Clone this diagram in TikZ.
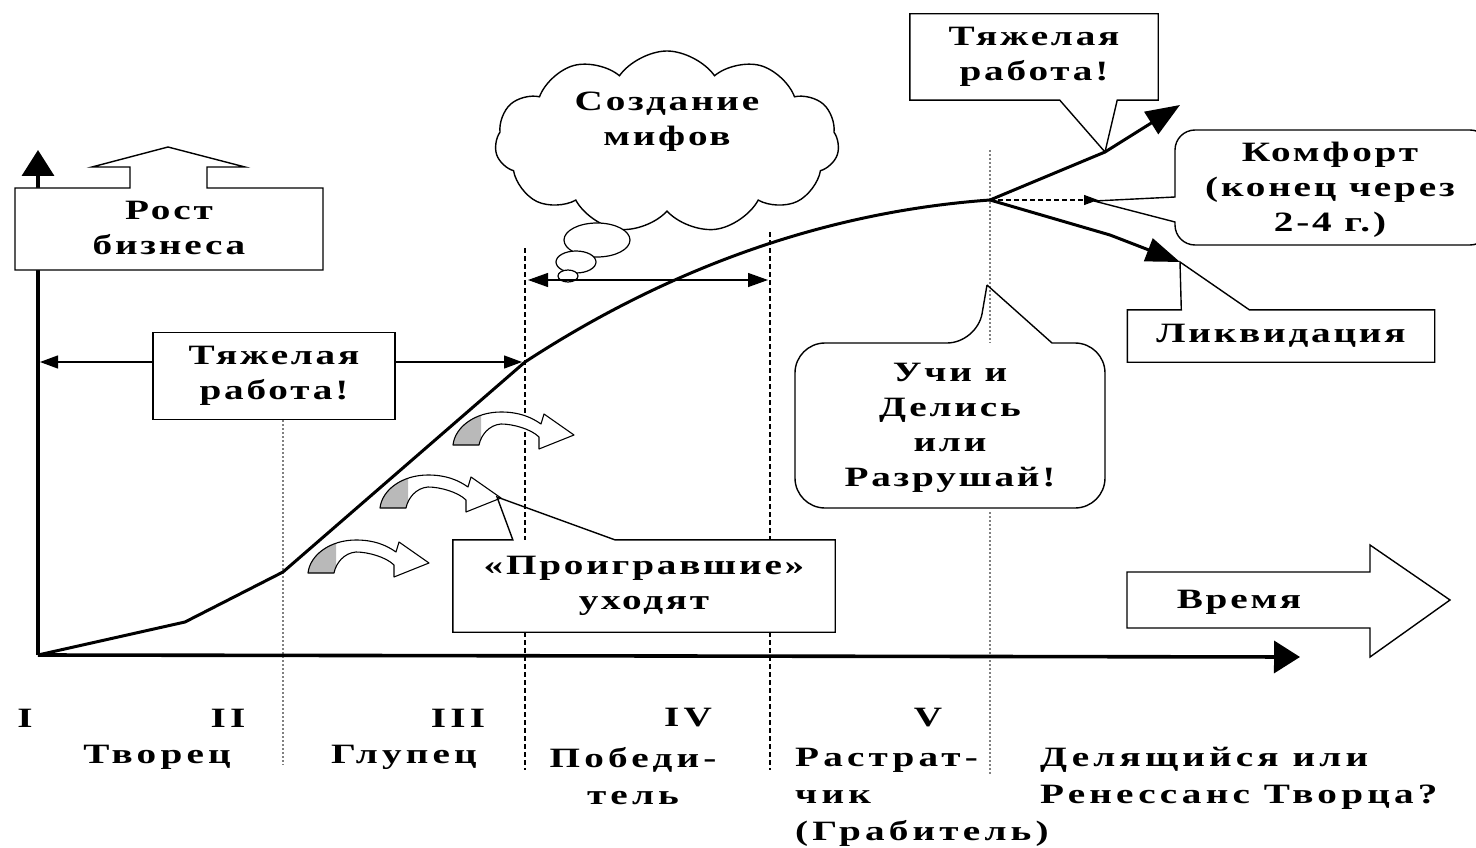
\documentclass[tikz,border=0pt]{standalone}
\usepackage{fontspec}
\setmainfont{Liberation Serif}
\newfontfamily\labfont{Liberation Serif}[FakeStretch=1.4,LetterSpace=10]
\newfontfamily\botfont{Liberation Serif}[FakeStretch=1.4,LetterSpace=15]
\usetikzlibrary{arrows.meta,shapes.symbols}
\tikzset{
  lbl/.style={font=\labfont\bfseries\fontsize{28}{35}\selectfont, align=center, inner sep=0pt},
  blbl/.style={font=\botfont\bfseries\fontsize{28}{37}\selectfont, inner sep=0pt},
  ol/.style={draw=black, line width=1.4pt, fill=white},
  oline/.style={draw=black, line width=1.4pt},
  axisln/.style={line width=3.6pt, -{Triangle[length=26pt,width=32pt]}},
  curveln/.style={line width=3pt, line join=round},
  harr/.style={line width=1.3pt, -{Triangle[length=18pt,width=13pt]}},
  guideg/.style={draw=gray, line width=1.1pt, dash pattern=on 2pt off 2pt},
  guided/.style={draw=black, line width=1.2pt, dash pattern=on 5pt off 3pt},
  crvp/.style={insert path={(0,0) .. controls (2,-18) and (22,-33) .. (48,-33)
     .. controls (66,-33) and (78,-28) .. (88,-21) -- (91,-31) -- (121,-10)
     -- (86,4) -- (86,-8) .. controls (78,-16) and (60,-21) .. (48,-21)
     .. controls (36,-20) and (28,-10) .. (26,0) -- cycle}},
  crv/.pic={
    \fill[white, crvp];
    \begin{scope}
      \clip (-5,5) rectangle (28,-40);
      \fill[gray!55, crvp];
    \end{scope}
    \draw[line width=1.1pt, line join=round, crvp];
  }
}
\begin{document}
\begin{tikzpicture}[x=1pt,y=-1pt]
\useasboundingbox (0,0) rectangle (1476,848);
\fill[white] (0,0) rectangle (1476,848);

% key points
\coordinate (O) at (38,655);
\coordinate (yT) at (38,150);
\coordinate (xT) at (1300,657);
\coordinate (c1) at (185,622);
\coordinate (c2) at (283,572);
\coordinate (c3) at (525,362);
\coordinate (split) at (990,200);
\coordinate (up1) at (1105,152);
\coordinate (upT) at (1180,105);
\coordinate (lo1) at (1110,235);
\coordinate (loT) at (1180,262);
\coordinate (dashT) at (1098,200);

% guides
\draw[guideg] (283,420) -- (283,765);
\draw[guided] (525,248) -- (525,770);
\draw[guided] (770,232) -- (770,770);
\draw[guideg] (990,150) -- (990,343);
\draw[guideg] (990,508) -- (990,775);

% axes
\draw[axisln] (O) -- (yT);
\draw[axisln] (O) -- (xT);

% growth box
\filldraw[ol] (15,188) -- (130,188) -- (130,167) -- (92,167) -- (168,147) -- (245,167)
  -- (207,167) -- (207,188) -- (323,188) -- (323,270) -- (15,270) -- cycle;
\node[lbl] (rost) at (169,228) {Рост\\бизнеса};

% curved "leaving" arrows
\pic at (308,573) {crv};
\pic at (380,508) {crv};
\pic at (453,445) {crv};

% main curve
\draw[curveln] (O) -- (c1) -- (c2) -- (c3) .. controls (620,300) and (780,215) .. (split);
\draw[curveln, -{Triangle[length=34pt,width=26pt]}] (split) -- (up1) -- (upT);
\draw[curveln, -{Triangle[length=34pt,width=24pt]}] (split) -- (lo1) -- (loT);
\draw[line width=1.1pt, dash pattern=on 5pt off 3pt, -{Triangle[length=14pt,width=10pt]}] (split) -- (dashT);

% hard work (left)
\node[lbl, ol, minimum width=242pt, minimum height=87pt] (hw1) at (274,376) {Тяжелая\\работа!};
\coordinate (hwL) at (40,362);
\coordinate (hwR) at (522,362);
\draw[harr] (hw1.west |- hwL) -- (hwL);
\draw[harr] (hw1.east |- hwR) -- (hwR);

% cloud
\node[cloud, ol, cloud puffs=11, cloud puff arc=110, aspect=2, minimum width=344pt,
      minimum height=182pt, inner sep=0pt] (cloud) at (667,142) {};
\node[lbl] (myth) at (667,122) {Создание\\мифов};
\filldraw[ol, line width=1.2pt] (597,240) ellipse [x radius=33, y radius=17];
\filldraw[ol, line width=1.2pt] (576,262) ellipse [x radius=20, y radius=11];
\filldraw[ol, line width=1.2pt] (568,276) ellipse [x radius=10, y radius=6];
\coordinate (clL) at (528,280);
\coordinate (clR) at (768,280);
\draw[line width=1.3pt, {Triangle[length=20pt,width=14pt]}-{Triangle[length=20pt,width=14pt]}] (clL) -- (clR);

% hard work (top)
\node[lbl, fill=white, minimum width=248pt, minimum height=86pt] (hw2) at (1034,57) {Тяжелая\\работа!};
\coordinate (tipA) at (1105,152);
\draw[oline] (hw2.north west) -| (hw2.south east) -- ([xshift=-41pt]hw2.south east) -- (tipA)
  -- ([xshift=150pt]hw2.south west) -- (hw2.south west) -- cycle;

% comfort
\node[lbl, fill=white, rounded corners=20pt, minimum width=300pt, minimum height=115pt] (komf) at (1330,190) {Комфорт\\(конец через\\2-4 г.)};
\coordinate (kpT) at (1094,201);
\draw[oline] (kpT) -- (1175,197) [rounded corners=20pt] -- (1175,130) -- (1490,130) -- (1490,245)
  -- (1175,245) [sharp corners] -- (1175,222) -- (kpT);

% liquidation
\node[lbl, fill=white, minimum width=307pt, minimum height=52pt] (liq) at (1281,336) {Ликвидация};
\draw[oline] (liq.north west) -- ([xshift=54pt]liq.north west) -- (loT) -- ([xshift=122pt]liq.north west)
  -- (liq.north east) |- (liq.south west) -- cycle;

% learn and share
\node[lbl, fill=white, rounded corners=30pt, minimum width=310pt, minimum height=165pt] (uchi) at (950,428)
  {Учи и\\Делись\\или\\Разрушай!};
\coordinate (ucT) at (987,285);
\draw[oline] (ucT) -- (1052,343) [rounded corners=30pt] -- (1105,343) -- (1105,508) -- (795,508)
  -- (795,343) -- (977,343) [sharp corners] -- (ucT);

% losers leave
\node[lbl, fill=white, minimum width=382pt, minimum height=92pt] (lose) at (644,586) {«Проигравшие»\\уходят};
\coordinate (tipL) at (497,497);
\draw[oline] (lose.north west) -- ([xshift=60pt]lose.north west) -- (tipL) -- ([xshift=162pt]lose.north west)
  -- (lose.north east) |- (lose.south west) -- cycle;

% time arrow
\filldraw[ol] (1127,572) -- (1370,572) -- (1370,545) -- (1450,600) -- (1370,657) -- (1370,628)
  -- (1127,628) -- cycle;
\node[lbl] (time) at (1239,602) {Время};

% stage labels
\node[blbl] (r1) at (25,718) {I};
\node[blbl] (r2) at (228,718) {II};
\node[blbl] (r3) at (458,718) {III};
\node[blbl] (r4) at (688,718) {IV};
\node[blbl] (r5) at (928,718) {V};
\node[blbl] (s1) at (157,757) {Творец};
\node[blbl] (s2) at (404,757) {Глупец};
\node[blbl, align=center] (s3) at (633,776) {Победи-\\тель};
\node[blbl, align=left, anchor=west] (s4) at (795,797) {Растрат-\\чик\\(Грабитель)};
\node[blbl, align=left, anchor=west] (s5) at (1040,778) {Делящийся или\\Ренессанс Творца?};
\end{tikzpicture}
\end{document}
